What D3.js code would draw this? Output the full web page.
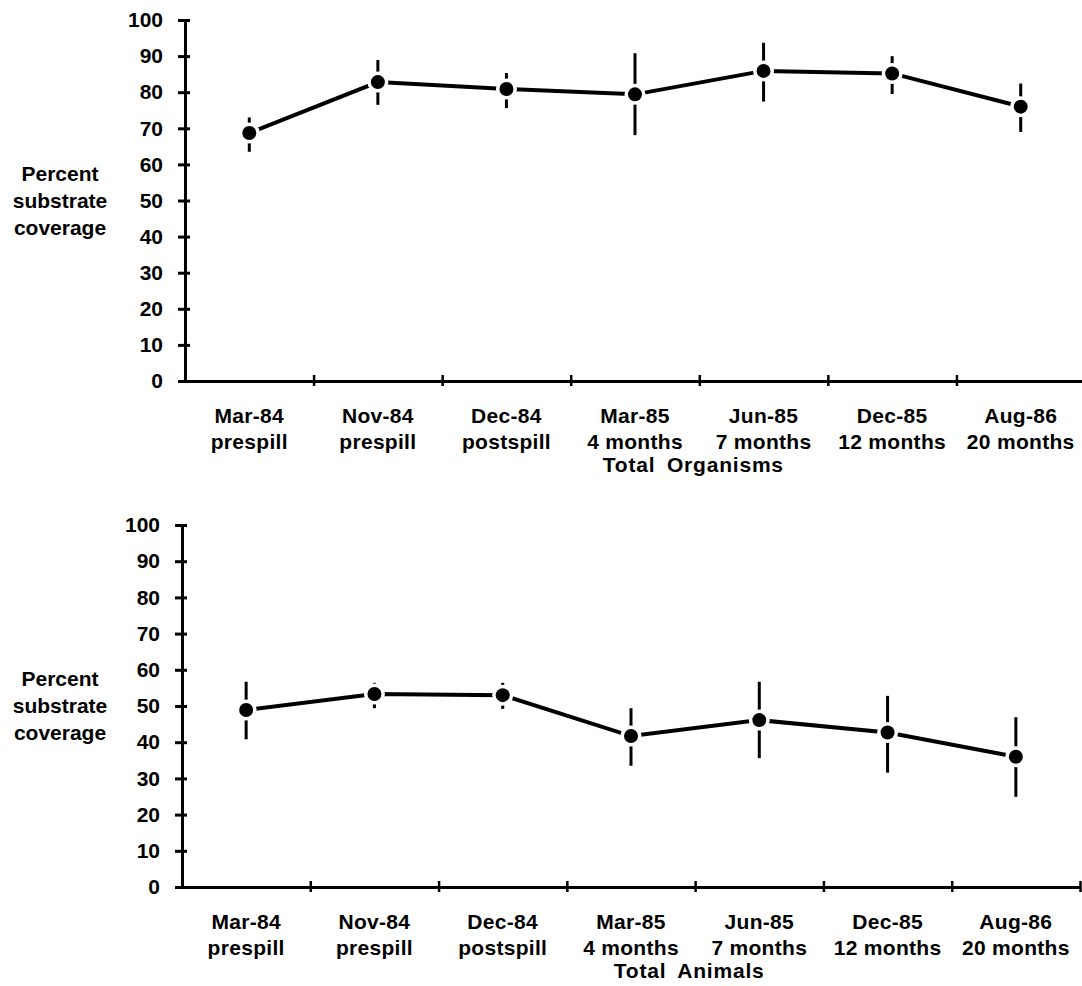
<!DOCTYPE html>
<html>
<head>
<meta charset="utf-8">
<script src="https://cdn.jsdelivr.net/npm/d3@7"></script>
<style>
  html, body { margin: 0; padding: 0; background: #fff; }
  svg { display: block; }
  text { font-family: "Liberation Sans", Arial, Helvetica, sans-serif; font-weight: bold; fill: #000; }
</style>
</head>
<body>
<script>
// Survey dates and time since the spill
const categories = ["Mar-84", "Nov-84", "Dec-84", "Mar-85", "Jun-85", "Dec-85", "Aug-86"];
const phases = ["prespill", "prespill", "postspill", "4 months", "7 months", "12 months", "20 months"];

// Total organisms: mean percent cover with error range
const organismsMean = [68.7, 82.8, 80.9, 79.4, 85.9, 85.2, 76.0];
const organismsLow  = [63.5, 76.5, 75.6, 68.1, 77.4, 79.5, 69.0];
const organismsHigh = [73.0, 88.9, 85.3, 90.8, 93.7, 90.0, 82.4];

// Total animals: mean percent cover with error range
const animalsMean = [48.9, 53.3, 53.0, 41.7, 46.1, 42.7, 36.0];
const animalsLow  = [40.8, 49.4, 49.2, 33.5, 35.6, 31.6, 24.9];
const animalsHigh = [56.7, 56.4, 56.4, 49.4, 56.7, 52.8, 46.9];

const yTicks = [0, 10, 20, 30, 40, 50, 60, 70, 80, 90, 100];
const yLabelLines = ["Percent", "substrate", "coverage"];

const W = 1082, H = 986;
const FONT = 21;
const svg = d3.select("body").append("svg").attr("width", W).attr("height", H);

function panel(opts) {
  const { mean, low, high, title, left, right, top, bottom } = opts;
  const g = svg.append("g");

  const y = d3.scaleLinear().domain([0, 100]).range([bottom, top]);
  const xBand = d3.scaleBand().domain(categories).range([left, right]).padding(0);
  const xEdge = d3.scaleLinear().domain([0, categories.length]).range([left, right]);

  // y axis with crossing ticks
  const yAxis = g.append("g")
    .attr("transform", `translate(${left},0)`)
    .call(d3.axisLeft(y).tickValues(yTicks).tickSize(7).tickSizeOuter(0).tickPadding(15));
  yAxis.select(".domain").attr("stroke", "#000").attr("stroke-width", 3);
  yAxis.selectAll(".tick line").attr("x1", 5).attr("stroke", "#000").attr("stroke-width", 3);
  yAxis.selectAll(".tick text")
    .style("font-size", FONT + "px").style("font-family", "'Liberation Sans', Arial, sans-serif")
    .style("font-weight", "bold").attr("fill", "#000");

  // x axis with ticks at category boundaries
  const xAxis = g.append("g")
    .attr("transform", `translate(0,${bottom})`)
    .call(d3.axisBottom(xEdge).tickValues(d3.range(1, categories.length + 1))
      .tickFormat("").tickSize(5).tickSizeOuter(0));
  xAxis.select(".domain").attr("stroke", "#000").attr("stroke-width", 3);
  xAxis.selectAll(".tick line").attr("y1", -6).attr("stroke", "#000").attr("stroke-width", 2.5);

  // category labels
  const cx = c => xBand(c) + xBand.bandwidth() / 2;
  const lab = g.append("g").selectAll("text").data(categories).join("text")
    .attr("x", c => cx(c)).attr("text-anchor", "middle")
    .style("font-size", FONT + "px").style("letter-spacing", "0.3px");
  lab.append("tspan").attr("x", c => cx(c)).attr("y", bottom + 42).text(c => c);
  lab.append("tspan").attr("x", c => cx(c)).attr("y", bottom + 68).text((c, i) => phases[i]);

  g.append("text").attr("x", xEdge(4) - 6).attr("y", bottom + 91)
    .attr("text-anchor", "middle").style("font-size", FONT + "px")
    .style("letter-spacing", "0.8px").style("word-spacing", "5px")
    .text(title);

  // y axis title
  const mid = (top + bottom) / 2;
  g.append("g").selectAll("text").data(yLabelLines).join("text")
    .attr("x", 60).attr("y", (d, i) => mid + (i - 1) * 27 + 7)
    .attr("text-anchor", "middle").style("font-size", FONT + "px")
    .text(d => d);

  const pts = categories.map((c, i) => ({ x: cx(c), m: mean[i], lo: low[i], hi: high[i] }));

  // error bars
  g.append("g").selectAll("line").data(pts).join("line")
    .attr("x1", d => d.x).attr("x2", d => d.x)
    .attr("y1", d => y(d.hi)).attr("y2", d => y(d.lo))
    .attr("stroke", "#000").attr("stroke-width", 3);

  // connecting line
  g.append("path").datum(pts)
    .attr("d", d3.line().x(d => d.x).y(d => y(d.m)))
    .attr("fill", "none").attr("stroke", "#000").attr("stroke-width", 4);

  // white halo separating dots from lines
  g.append("g").selectAll("circle").data(pts).join("circle")
    .attr("cx", d => d.x).attr("cy", d => y(d.m)).attr("r", 10.5).attr("fill", "#fff");

  g.append("g").selectAll("circle").data(pts).join("circle")
    .attr("cx", d => d.x).attr("cy", d => y(d.m)).attr("r", 7).attr("fill", "#000");
}

panel({ mean: organismsMean, low: organismsLow, high: organismsHigh, title: "Total Organisms",
        left: 185, right: 1085, top: 20, bottom: 381 });
panel({ mean: animalsMean, low: animalsLow, high: animalsHigh, title: "Total Animals",
        left: 182, right: 1080, top: 525, bottom: 887 });
</script>
</body>
</html>
